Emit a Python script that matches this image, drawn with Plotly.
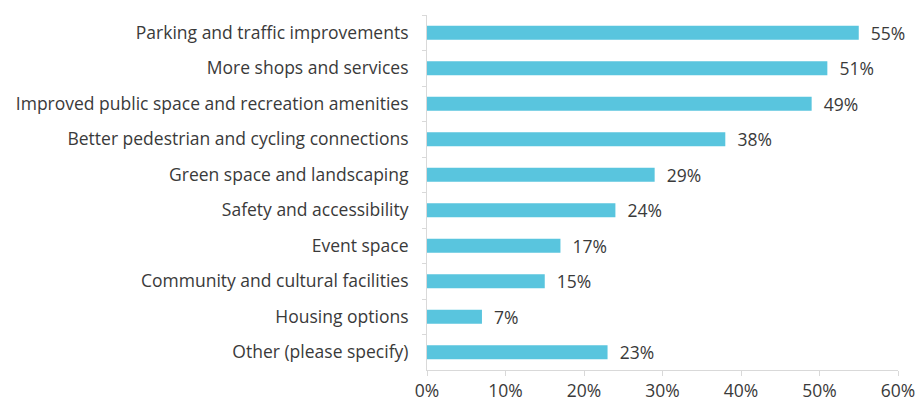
import plotly.graph_objects as go

categories = [
    "Parking and traffic improvements",
    "More shops and services",
    "Improved public space and recreation amenities",
    "Better pedestrian and cycling connections",
    "Green space and landscaping",
    "Safety and accessibility",
    "Event space",
    "Community and cultural facilities",
    "Housing options",
    "Other (please specify)",
]
values = [55, 51, 49, 38, 29, 24, 17, 15, 7, 23]
x_ticks = [0, 10, 20, 30, 40, 50, 60]
x_tick_labels = [f"{t}%" for t in x_ticks]

font_family = "Open Sans, Liberation Sans, sans-serif"
text_color = "#3a3a3a"
axis_color = "#d9d9d9"
font_size = 17.5

fig = go.Figure(
    go.Bar(
        y=categories,
        x=values,
        orientation="h",
        marker=dict(color="#59c5de", line=dict(width=0)),
        text=[f"  {v}%" for v in values],
        textposition="outside",
        constraintext="none",
        textfont=dict(family=font_family, size=font_size, color=text_color),
        cliponaxis=False,
    )
)

fig.update_layout(
    width=916,
    height=403,
    margin=dict(l=427, r=18, t=15, b=33),
    paper_bgcolor="white",
    plot_bgcolor="white",
    bargap=0.6,
    showlegend=False,
    font=dict(family=font_family, size=font_size, color=text_color),
)

fig.update_xaxes(
    range=[0, 60],
    tickvals=x_ticks,
    ticktext=x_tick_labels,
    automargin=False,
    showgrid=False,
    zeroline=False,
    showline=True,
    linecolor=axis_color,
    linewidth=1,
    ticks="outside",
    ticklen=5,
    tickcolor=axis_color,
    tickfont=dict(family=font_family, size=font_size, color=text_color),
)

fig.update_yaxes(
    autorange="reversed",
    automargin=False,
    showgrid=False,
    showline=True,
    linecolor=axis_color,
    linewidth=1,
    ticks="outside",
    tickson="boundaries",
    ticklen=4,
    tickcolor=axis_color,
    ticklabelstandoff=14,
    tickfont=dict(family=font_family, size=font_size, color=text_color),
)

fig.write_html("out.html")
